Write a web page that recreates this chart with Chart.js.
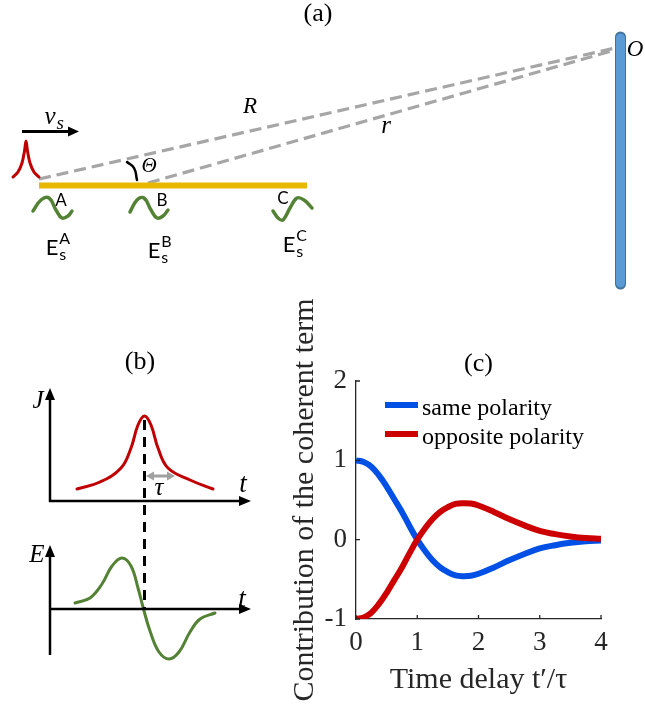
<!DOCTYPE html>
<html>
<head>
<meta charset="utf-8">
<script src="https://cdn.jsdelivr.net/npm/chart.js@4.4.1/dist/chart.umd.min.js"></script>
<style>
  html, body { margin: 0; padding: 0; background: #fff; }
  #wrap { position: relative; width: 645px; height: 706px; overflow: hidden; }
  canvas { position: absolute; }
  #sketch { left: 0; top: 0; }
  #coherent { left: 270px; top: 290px; }
</style>
</head>
<body>
<div id="wrap">
  <canvas id="sketch" width="645" height="706"></canvas>
  <canvas id="coherent" width="375" height="416"></canvas>
</div>
<script>
// panel (c) data
const delays = [0, 0.125, 0.25, 0.375, 0.5, 0.625, 0.75, 0.875, 1, 1.125, 1.25, 1.375, 1.5, 1.625, 1.75, 1.875, 2, 2.25, 2.5, 2.75, 3, 3.25, 3.5, 3.75, 4];
const samePolarity = [1.0, 0.98, 0.92, 0.81, 0.67, 0.51, 0.35, 0.17, 0.0, -0.14, -0.26, -0.35, -0.41, -0.45, -0.46, -0.455, -0.43, -0.35, -0.26, -0.18, -0.11, -0.07, -0.04, -0.02, -0.01];
const oppositePolarity = [-1.0, -0.98, -0.92, -0.81, -0.67, -0.51, -0.35, -0.17, 0.0, 0.14, 0.26, 0.35, 0.41, 0.45, 0.46, 0.455, 0.43, 0.35, 0.26, 0.18, 0.11, 0.07, 0.04, 0.02, 0.01];
const seriesNames = ['same polarity', 'opposite polarity'];
const xTicks = [0, 1, 2, 3, 4];
const yTicks = [-1, 0, 1, 2];

// schematic shapes for panels (a) and (b), in page units
const rayR = [[39, 179], [615, 48]];
const rayr = [[148, 183], [615, 50]];
const sample = [[39, 185.5], [307, 185.5]];
const screen = [[620.5, 37], [620.5, 284]];
const pulseA = [[13, 177], [18, 172], [22, 163], [24.5, 151], [26, 141], [27.5, 151], [30, 163], [34, 172], [39, 177]];
const velocity = [[22, 131.5], [68, 131.5]];
const thetaArc = [[127, 162], [134, 168], [137, 180]];
const waveA = [[33, 211], [41, 200], [49, 198], [56, 210], [62, 218], [68, 216], [72, 211]];
const waveB = [[130, 212], [137, 200], [144, 198], [151, 210], [157, 218], [163, 216], [168, 210]];
const waveC = [[273, 211], [278, 218], [283, 220], [290, 208], [297, 198], [304, 200], [312, 208]];
const jAxisY = [[50, 502], [50, 400]];
const jAxisX = [[49, 501], [239, 501]];
const currentJ = [[77, 489], [100, 482], [121, 468], [131, 448], [138, 425], [144.5, 416], [151, 425], [158, 448], [168, 468], [190, 480], [213, 489]];
const dropLine = [[144.5, 420], [144.5, 608]];
const tauArrow = [[154, 476], [167, 476]];
const eAxisY = [[50, 655], [50, 557]];
const eAxisX = [[49, 609], [239, 609]];
const fieldE = [[75, 603], [90, 598], [102, 584], [112, 566], [122, 558], [131, 566], [138, 588], [143.5, 609], [150, 631], [159, 652], [169, 659], [179, 652], [190, 632], [200, 619], [215, 613]];

const sketchLabels = [
  { text: '(a)', x: 318, y: 21, font: '26px "Liberation Serif"' },
  { text: 'R', x: 250, y: 113, font: 'italic 23px "Liberation Serif"' },
  { text: 'r', x: 386, y: 133, font: 'italic 25px "Liberation Serif"' },
  { text: 'v', x: 50, y: 124, font: 'italic 25px "Liberation Serif"', sub: 's', subFont: 'italic 19px "Liberation Serif"' },
  { text: 'Θ', x: 149, y: 172, font: 'italic 21px "Liberation Serif"' },
  { text: 'O', x: 635, y: 56, font: 'italic 23px "Liberation Serif"' },
  { text: 'A', x: 61, y: 206, font: '17px Lato' },
  { text: 'B', x: 162, y: 206, font: '17px Lato' },
  { text: 'C', x: 283, y: 204, font: '17px Lato' },
  { text: 'E', x: 52, y: 255, font: '22px Lato', sup: 'A', sub: 's', subFont: '16px Lato' },
  { text: 'E', x: 154, y: 258, font: '22px Lato', sup: 'B', sub: 's', subFont: '16px Lato' },
  { text: 'E', x: 289, y: 252, font: '22px Lato', sup: 'C', sub: 's', subFont: '16px Lato' },
  { text: '(b)', x: 140, y: 369, font: '26px "Liberation Serif"' },
  { text: 'J', x: 38, y: 408, font: 'italic 25px "Liberation Serif"' },
  { text: 't', x: 243, y: 492, font: 'italic 27px "Liberation Serif"' },
  { text: 'τ', x: 159, y: 495, font: 'italic 25px "Liberation Serif"' },
  { text: 'E', x: 37, y: 562, font: 'italic 25px "Liberation Serif"' },
  { text: 't', x: 242, y: 607, font: 'italic 27px "Liberation Serif"' }
];

function toPoints(list) {
  return list.map(p => ({ x: p[0], y: p[1] }));
}

function shape(list, color, width, extra) {
  return Object.assign({
    data: toPoints(list),
    borderColor: color,
    borderWidth: width,
    showLine: true,
    pointRadius: 0,
    fill: false,
    tension: 0,
    borderCapStyle: 'round',
    borderJoinStyle: 'round',
    clip: false
  }, extra || {});
}

const arrowPlugin = {
  id: 'arrows',
  afterDatasetsDraw(chart) {
    const ctx = chart.ctx;
    chart.data.datasets.forEach((ds, i) => {
      if (!ds.arrowEnd && !ds.arrowStart) return;
      const pts = chart.getDatasetMeta(i).data;
      const heads = [];
      if (ds.arrowEnd) heads.push([pts[pts.length - 2], pts[pts.length - 1]]);
      if (ds.arrowStart) heads.push([pts[1], pts[0]]);
      heads.forEach(([from, to]) => {
        const dx = to.x - from.x, dy = to.y - from.y;
        const len = Math.hypot(dx, dy);
        const ux = dx / len, uy = dy / len;
        const L = ds.arrowLength || 12, W = ds.arrowWidth || 5;
        ctx.save();
        ctx.fillStyle = ds.borderColor;
        ctx.beginPath();
        ctx.moveTo(to.x + ux * L, to.y + uy * L);
        ctx.lineTo(to.x - uy * W, to.y + ux * W);
        ctx.lineTo(to.x + uy * W, to.y - ux * W);
        ctx.closePath();
        ctx.fill();
        ctx.restore();
      });
    });
  }
};

const sketchText = {
  id: 'sketchText',
  afterDraw(chart) {
    const ctx = chart.ctx;
    const sx = chart.scales.x, sy = chart.scales.y;
    ctx.save();
    ctx.fillStyle = '#000';
    ctx.textBaseline = 'alphabetic';
    sketchLabels.forEach(l => {
      const px = sx.getPixelForValue(l.x);
      const py = sy.getPixelForValue(l.y);
      ctx.font = l.font;
      ctx.textAlign = 'center';
      ctx.fillText(l.text, px, py);
      const w = ctx.measureText(l.text).width;
      ctx.textAlign = 'left';
      if (l.sup) {
        ctx.font = l.subFont;
        ctx.fillText(l.sup, px + w / 2 + 1, py - 11);
      }
      if (l.sub) {
        ctx.font = l.subFont;
        ctx.fillText(l.sub, px + w / 2 + 1, py + 5);
      }
    });
    ctx.restore();
  }
};

const gray = '#A6A6A6';
const green = '#548235';
const darkRed = '#C00000';

// listed back to front; Chart.js paints the first dataset on top, so the list is reversed below
const sketchSets = [
  shape(rayR, gray, 3.2, { borderDash: [12, 6], borderCapStyle: 'butt' }),
  shape(rayr, gray, 3.2, { borderDash: [12, 6], borderCapStyle: 'butt' }),
  shape(screen, '#41719C', 11, { borderCapStyle: 'butt' }),
  shape([[620.5, 38], [620.5, 283]], '#5B9BD5', 9, { borderCapStyle: 'butt' }),
  shape(sample, '#E8B700', 6, { borderCapStyle: 'butt' }),
  shape(pulseA, darkRed, 3, { tension: 0.35 }),
  shape(velocity, '#000', 3, { borderCapStyle: 'butt', arrowEnd: true, arrowLength: 11, arrowWidth: 5 }),
  shape(thetaArc, '#000', 2.5, { tension: 0.5 }),
  shape(waveA, green, 3.5, { tension: 0.4 }),
  shape(waveB, green, 3.5, { tension: 0.4 }),
  shape(waveC, green, 3.5, { tension: 0.4 }),
  shape(currentJ, darkRed, 3, { tension: 0.4 }),
  shape(fieldE, green, 3, { tension: 0.4 }),
  shape(jAxisY, '#000', 2.5, { borderCapStyle: 'butt', arrowEnd: true }),
  shape(jAxisX, '#000', 2.5, { borderCapStyle: 'butt', arrowEnd: true }),
  shape(eAxisY, '#000', 2.5, { borderCapStyle: 'butt', arrowEnd: true }),
  shape(eAxisX, '#000', 2.5, { borderCapStyle: 'butt', arrowEnd: true }),
  shape(dropLine, '#000', 3, { borderDash: [10, 7], borderCapStyle: 'butt' }),
  shape(tauArrow, '#A0A0A0', 3, { borderCapStyle: 'butt', arrowEnd: true, arrowStart: true, arrowLength: 8, arrowWidth: 4.5 })
];

new Chart(document.getElementById('sketch'), {
  type: 'scatter',
  data: { datasets: sketchSets.slice().reverse() },
  options: {
    responsive: false,
    animation: false,
    layout: { padding: 0 },
    plugins: { legend: { display: false }, tooltip: { enabled: false } },
    scales: {
      x: { type: 'linear', min: 0, max: 645, display: false },
      y: { type: 'linear', min: 0, max: 706, reverse: true, display: false }
    }
  },
  plugins: [arrowPlugin, sketchText]
});

// panel (c)
const axisInk = '#262626';
const serif = 'Liberation Serif';

const innerTicks = {
  id: 'innerTicks',
  afterDraw(chart) {
    const { ctx, chartArea: a, scales: { x, y } } = chart;
    ctx.save();
    ctx.strokeStyle = axisInk;
    ctx.lineWidth = 1.3;
    ctx.beginPath();
    x.ticks.forEach(t => {
      const px = x.getPixelForValue(t.value);
      ctx.moveTo(px, a.bottom);
      ctx.lineTo(px, a.bottom - 4);
    });
    y.ticks.forEach(t => {
      const py = y.getPixelForValue(t.value);
      ctx.moveTo(a.left, py);
      ctx.lineTo(a.left + 4, py);
    });
    ctx.stroke();
    ctx.restore();
  }
};

const insideLegend = {
  id: 'insideLegend',
  afterDraw(chart) {
    const { ctx, chartArea: a } = chart;
    ctx.save();
    // panel title
    ctx.font = '26px "' + serif + '"';
    ctx.fillStyle = '#000';
    ctx.textAlign = 'center';
    ctx.textBaseline = 'alphabetic';
    ctx.fillText('(c)', (a.left + a.right) / 2, a.top - 10);
    // legend
    const colors = [chart.data.datasets[0].borderColor, chart.data.datasets[1].borderColor];
    ctx.textAlign = 'left';
    ctx.font = '24px "' + serif + '"';
    seriesNames.forEach((name, i) => {
      const yy = a.top + 24 + i * 29;
      ctx.strokeStyle = colors[i];
      ctx.lineWidth = 6;
      ctx.beginPath();
      ctx.moveTo(a.left + 29, yy);
      ctx.lineTo(a.left + 62, yy);
      ctx.stroke();
      ctx.fillStyle = '#000';
      ctx.fillText(name, a.left + 66, yy + 10);
    });
    ctx.restore();
  }
};

function pairs(xs, ys) {
  return xs.map((v, i) => ({ x: v, y: ys[i] }));
}

new Chart(document.getElementById('coherent'), {
  type: 'scatter',
  data: {
    datasets: [
      {
        label: seriesNames[0],
        data: pairs(delays, samePolarity),
        borderColor: '#0050E6',
        borderWidth: 6,
        showLine: true,
        pointRadius: 0,
        tension: 0.4,
        order: 2
      },
      {
        label: seriesNames[1],
        data: pairs(delays, oppositePolarity),
        borderColor: '#CC0000',
        borderWidth: 6,
        showLine: true,
        pointRadius: 0,
        tension: 0.4,
        order: 1
      }
    ]
  },
  options: {
    responsive: false,
    animation: false,
    layout: { padding: { left: 0, right: 44, top: 91, bottom: 0 } },
    plugins: { legend: { display: false }, tooltip: { enabled: false } },
    scales: {
      x: {
        type: 'linear',
        min: 0,
        max: 4,
        afterBuildTicks: s => { s.ticks = xTicks.map(v => ({ value: v })); },
        afterFit: s => { s.height = 87; },
        grid: { display: false, drawTicks: false },
        border: { display: true, color: axisInk, width: 1.3 },
        ticks: { color: axisInk, padding: 8, font: { family: serif, size: 27 } },
        title: {
          display: true,
          text: 'Time delay t′/τ',
          color: axisInk,
          padding: { top: 0, bottom: 8 },
          font: { family: serif, size: 30, lineHeight: 1.2 }
        }
      },
      y: {
        type: 'linear',
        min: -1,
        max: 2,
        afterBuildTicks: s => { s.ticks = yTicks.map(v => ({ value: v })); },
        afterFit: s => { s.width = 86; },
        grid: { display: false, drawTicks: false },
        border: { display: true, color: axisInk, width: 1.3 },
        ticks: { color: axisInk, padding: 9, font: { family: serif, size: 27 } },
        title: {
          display: true,
          text: 'Contribution of the coherent term',
          color: axisInk,
          padding: { top: 17, bottom: 0 },
          font: { family: serif, size: 30, lineHeight: 1.2 }
        }
      }
    }
  },
  plugins: [innerTicks, insideLegend]
});
</script>
</body>
</html>
